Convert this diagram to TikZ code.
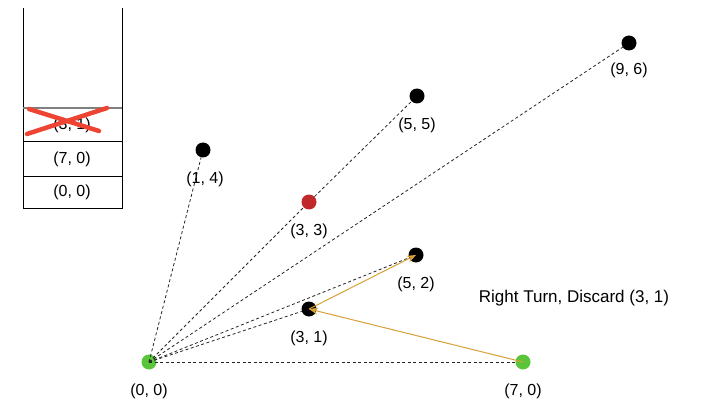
\documentclass[tikz,border=0pt]{standalone}
\usepackage{fontspec}
\setmainfont{Liberation Sans}
\usetikzlibrary{arrows.meta}
\definecolor{ptgreen}{HTML}{5AC43A}
\definecolor{ptred}{HTML}{C0282A}
\definecolor{arr}{HTML}{D9A038}
\definecolor{xred}{HTML}{EE4433}
\tikzset{
  pt/.style={circle, fill=black, inner sep=0pt, minimum size=15pt},
  lbl/.style={font=\fontsize{16}{18}\selectfont, inner sep=0pt},
  dsh/.style={draw=black!85, line width=0.8pt, dash pattern=on 3pt off 2.5pt},
  turn/.style={draw=arr, line width=1pt, -{Stealth[length=9pt,width=7pt]}},
  stk/.style={draw=black, line width=1pt},
  cross/.style={draw=xred, line width=4.5pt, line cap=round}
}
\begin{document}
\begin{tikzpicture}[x=1pt,y=-1pt]
\useasboundingbox[fill=white] (0,0) rectangle (724,412);
% stack
\draw[stk] (23,8) -- (23,208) -- (122,208) -- (122,8);
\draw[draw=gray, line width=1.5pt] (23,108) -- (122,108);
\draw[stk] (23,142) -- (122,142);
\draw[stk] (23,176) -- (122,176);
\node[lbl] (s31) at (72,125) {(3, 1)};
\node[lbl] (s70) at (72,159) {(7, 0)};
\node[lbl] (s00) at (72,192) {(0, 0)};
\draw[cross] (27,134) -- (107,108);
\draw[cross] (29,109) -- (99,131);
% points
\node[pt, fill=ptgreen] (p00) at (149,362) {};
\node[pt, fill=ptgreen] (p70) at (523,362) {};
\node[pt] (p31) at (309,309) {};
\node[pt] (p52) at (416,255) {};
\node[pt, fill=ptred] (p33) at (309,202) {};
\node[pt] (p14) at (203,150) {};
\node[pt] (p55) at (417,96) {};
\node[pt] (p96) at (629,43) {};
% dashed rays
\draw[dsh] (p00.center) -- (p70);
\draw[dsh] (p00.center) -- (p31);
\draw[dsh] (p00.center) -- (p52);
\draw[dsh] (p00.center) -- (p33);
\draw[dsh] (p33) -- (p55);
\draw[dsh] (p00.center) -- (p14);
\draw[dsh] (p00.center) -- (p96);
% orange arrows
\draw[turn] (p70.center) -- (p31.center);
\draw[turn] (p31.center) -- (p52.center);
% labels
\node[lbl] (l00) at (149,391) {(0, 0)};
\node[lbl] (l70) at (523,391) {(7, 0)};
\node[lbl] (l31) at (309,338) {(3, 1)};
\node[lbl] (l52) at (416,284) {(5, 2)};
\node[lbl] (l33) at (309,231) {(3, 3)};
\node[lbl] (l14) at (205,179) {(1, 4)};
\node[lbl] (l55) at (417,125) {(5, 5)};
\node[lbl] (l96) at (629,70) {(9, 6)};
\node[lbl, font=\fontsize{17}{19}\selectfont] (msg) at (574,298) {Right Turn, Discard (3, 1)};
\end{tikzpicture}
\end{document}
